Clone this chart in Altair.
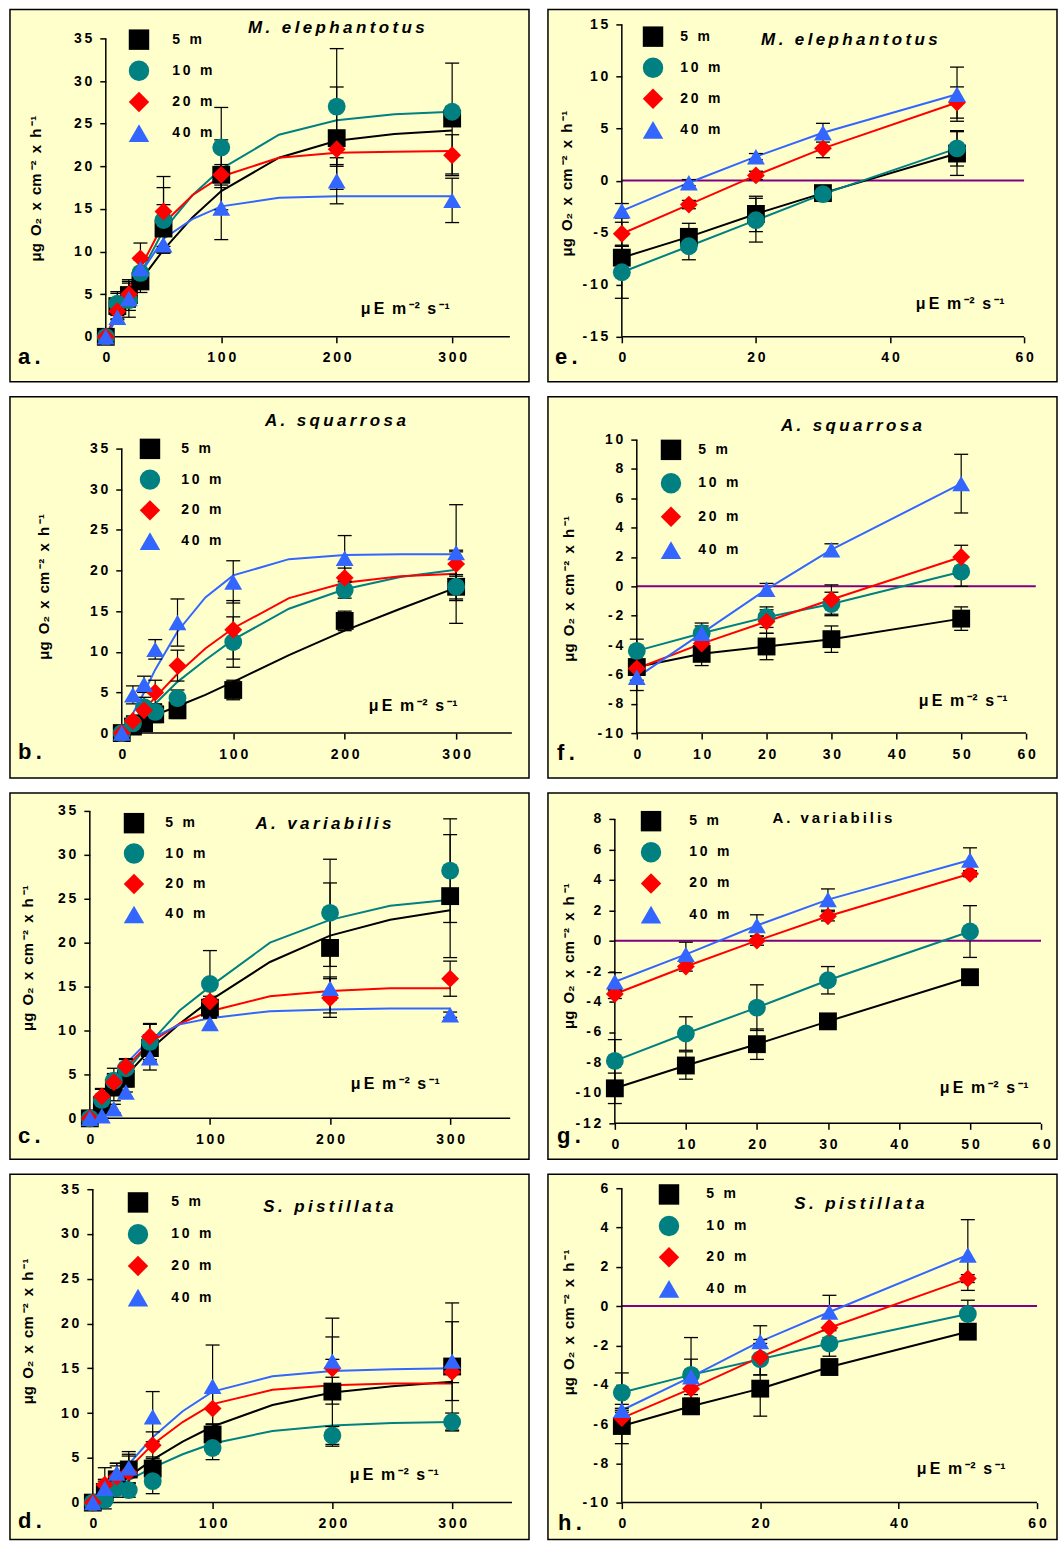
import altair as alt
import pandas as pd

FONT = "Liberation Sans"
THIN = "\u2009"

DEPTHS = ["5 m", "10 m", "20 m", "40 m"]
COLORS = ["#000000", "#008080", "#FF0000", "#3366FF"]
SHAPES = ["square", "circle", "diamond", "triangle-up"]
ZERO_COLOR = "#800080"
BOX_FILL = "#FFFFCC"

X_PI = [0, 10, 20, 30, 50, 100, 200, 300]
X_FIT = [0, 10, 20, 30, 50, 75, 100, 150, 200, 250, 300]
X_DARK = [0, 10, 20, 30, 50]

Y_TITLE = ("μg" + THIN + " O₂" + THIN + " x" + THIN + " cm" + THIN + "⁻²" + THIN + " x"
           + THIN + " h" + THIN + "⁻¹")
UNIT = "μ" + THIN + "E" + THIN + " m" + THIN + "⁻²" + THIN + " s" + THIN + "⁻¹"

TICKS_PI_X = [0, 100, 200, 300]
TICKS_PI_Y = [0, 5, 10, 15, 20, 25, 30, 35]
TICKS_E_X = [0, 20, 40, 60]
TICKS_E_Y = [-15, -10, -5, 0, 5, 10, 15]
TICKS_F_X = [0, 10, 20, 30, 40, 50, 60]
TICKS_F_Y = [-10, -8, -6, -4, -2, 0, 2, 4, 6, 8, 10]
TICKS_G_X = [0, 10, 20, 30, 40, 50, 60]
TICKS_G_Y = [-12, -10, -8, -6, -4, -2, 0, 2, 4, 6, 8]
TICKS_H_X = [0, 20, 40, 60]
TICKS_H_Y = [-10, -8, -6, -4, -2, 0, 2, 4, 6]

# ---- a. M. elephantotus (P-I) ----
a_mean = [[0, 3.6, 4.9, 6.5, 12.7, 19.0, 23.3, 25.6],
          [0, 3.9, 4.3, 7.5, 13.7, 22.2, 27.0, 26.4],
          [0, 3.0, 5.0, 9.2, 14.7, 19.0, 22.0, 21.3],
          [0, 2.3, 4.5, 8.0, 10.8, 15.1, 18.3, 16.0]]
a_sd = [[0, 1.5, 1.8, 1.3, 2.8, 4.1, 6.0, 6.5],
        [0, 1.4, 2.0, 1.5, 3.8, 4.7, 6.8, 0.6],
        [0, 1.0, 1.5, 1.8, 4.1, 1.2, 2.0, 2.4],
        [0, 0.8, 1.0, 1.2, 1.0, 3.7, 2.7, 2.6]]
a_fit = [[0, 2.4, 4.6, 6.6, 10.2, 14.0, 17.1, 21.0, 23.0, 23.8, 24.2],
         [0, 3.0, 5.2, 7.4, 12.5, 16.6, 19.7, 23.7, 25.4, 26.1, 26.4],
         [0, 3.0, 5.6, 8.1, 13.3, 16.6, 18.8, 21.0, 21.6, 21.7, 21.8],
         [0, 2.3, 4.6, 7.4, 11.5, 13.8, 15.3, 16.3, 16.5, 16.5, 16.5]]

# ---- b. A. squarrosa (P-I) ----
b_mean = [[0, 0.8, 1.2, 2.3, 2.8, 5.3, 13.8, 18.0],
          [0, 1.2, 3.2, 2.6, 4.3, 11.2, 17.6, 18.0],
          [0, 1.5, 2.8, 5.0, 8.3, 12.7, 19.1, 20.8],
          [0, 4.7, 6.0, 10.3, 13.6, 18.6, 21.5, 22.2]]
b_sd = [[0, 0.6, 0.8, 1.0, 1.0, 1.2, 1.2, 4.5],
        [0, 0.8, 1.2, 1.0, 1.0, 3.1, 1.0, 1.5],
        [0, 0.6, 1.0, 1.5, 1.9, 3.6, 1.2, 1.5],
        [0, 1.1, 1.0, 1.2, 2.9, 2.6, 2.8, 5.9]]
b_fit = [[0, 0.8, 1.5, 2.2, 3.3, 4.7, 6.3, 9.6, 12.6, 15.3, 17.9],
         [0, 1.2, 2.4, 3.6, 6.3, 9.0, 11.5, 15.3, 17.7, 19.2, 20.1],
         [0, 1.4, 2.9, 4.4, 7.3, 10.4, 12.9, 16.6, 18.5, 19.3, 19.6],
         [0, 2.4, 5.0, 7.8, 12.5, 16.7, 19.4, 21.4, 21.9, 22.0, 22.0]]

# ---- c. A. variabilis (P-I) ----
c_mean = [[0, 1.5, 3.5, 4.5, 8.0, 12.6, 19.4, 25.3],
          [0, 2.1, 4.3, 5.7, 8.7, 15.3, 23.4, 28.2],
          [0, 2.5, 4.1, 5.9, 9.3, 13.3, 13.7, 15.9],
          [0, 0.3, 1.1, 3.0, 6.9, 10.8, 14.8, 11.8]]
c_sd = [[0, 1.0, 1.5, 1.5, 1.5, 1.0, 7.4, 7.0],
        [0, 1.2, 1.4, 1.0, 2.0, 3.8, 6.1, 5.9],
        [0, 0.9, 1.0, 0.9, 1.5, 0.6, 2.2, 2.0],
        [0, 0.3, 0.5, 0.6, 1.4, 0.6, 1.3, 0.3]]
c_fit = [[0, 1.6, 3.2, 4.8, 7.8, 10.8, 13.4, 17.8, 20.8, 22.6, 23.7],
         [0, 1.8, 3.5, 5.3, 8.6, 12.3, 15.0, 20.0, 22.6, 24.2, 24.9],
         [0, 2.0, 4.0, 5.8, 8.6, 10.8, 12.2, 13.9, 14.5, 14.8, 14.8],
         [0, 2.2, 4.3, 6.2, 9.0, 10.7, 11.4, 12.2, 12.4, 12.5, 12.5]]

# ---- d. S. pistillata (P-I) ----
d_mean = [[0, 1.2, 2.6, 3.7, 3.8, 7.6, 12.4, 15.2],
          [0, 0.3, 1.6, 1.4, 2.4, 6.1, 7.5, 9.0],
          [0, 2.0, 2.9, 3.4, 6.4, 10.5, 15.0, 14.6],
          [0, 1.6, 3.3, 3.9, 9.6, 13.0, 15.8, 15.8]]
d_sd = [[0, 1.2, 1.5, 1.5, 1.3, 1.2, 6.1, 7.1],
        [0, 1.0, 1.0, 0.8, 1.4, 1.3, 1.0, 1.0],
        [0, 1.9, 1.5, 2.0, 1.5, 1.8, 1.0, 1.2],
        [0, 1.0, 1.1, 1.8, 2.8, 4.6, 4.8, 4.4]]
d_fit = [[0, 0.8, 1.8, 2.9, 4.8, 6.8, 8.5, 10.9, 12.3, 13.0, 13.5],
         [0, 0.7, 1.6, 2.5, 3.9, 5.4, 6.6, 8.0, 8.6, 8.9, 9.0],
         [0, 1.1, 2.4, 3.8, 6.5, 9.0, 11.0, 12.6, 13.1, 13.3, 13.3],
         [0, 1.2, 2.7, 4.3, 7.3, 10.2, 12.4, 14.1, 14.7, 14.9, 15.0]]

# ---- e-h: low light ----
e_mean = [[-7.4, -5.4, -3.2, -1.2, 2.6],
          [-8.8, -6.3, -3.8, -1.3, 3.1],
          [-5.1, -2.3, 0.5, 3.1, 7.5],
          [-2.9, -0.2, 2.3, 4.6, 8.3]]
e_sd = [[1.1, 1.3, 1.7, 0.4, 2.1],
        [2.5, 1.3, 2.1, 0.5, 1.7],
        [1.1, 0.4, 0.4, 0.9, 1.5],
        [0.7, 0.3, 0.3, 0.9, 2.6]]

f_mean = [[-5.5, -4.6, -4.1, -3.6, -2.2],
          [-4.4, -3.2, -2.1, -1.2, 1.0],
          [-5.6, -3.9, -2.4, -0.9, 2.0],
          [-6.2, -3.2, -0.2, 2.5, 7.0]]
f_sd = [[0.9, 0.8, 0.9, 0.9, 0.8],
        [0.8, 0.7, 0.7, 0.8, 1.0],
        [1.0, 0.6, 0.8, 1.0, 0.8],
        [0.9, 0.5, 0.4, 0.4, 2.0]]

g_mean = [[-9.7, -8.2, -6.8, -5.3, -2.4],
          [-7.9, -6.1, -4.4, -2.6, 0.6],
          [-3.5, -1.7, 0.0, 1.6, 4.4],
          [-2.7, -0.9, 1.0, 2.7, 5.3]]
g_sd = [[1.0, 0.9, 1.0, 0.4, 0.1],
        [1.4, 1.1, 1.5, 0.9, 1.7],
        [0.3, 0.3, 0.3, 0.3, 0.2],
        [0.6, 0.8, 0.7, 0.7, 0.8]]

h_mean = [[-6.1, -5.1, -4.2, -3.1, -1.3],
          [-4.4, -3.5, -2.7, -1.9, -0.4],
          [-5.7, -4.2, -2.6, -1.1, 1.4],
          [-5.3, -3.6, -1.8, -0.3, 2.6]]
h_sd = [[0.9, 0.4, 1.4, 0.3, 0.1],
        [1.0, 1.9, 0.8, 0.65, 0.7],
        [0.4, 0.5, 0.9, 0.5, 0.2],
        [0.3, 0.9, 0.8, 0.85, 1.8]]

# ---- layout (pixels) ----
LAYOUT = {
    "a": dict(box=(9, 7, 520, 373), xref=((0, 105), (300, 452)), yref=((0, 335), (35, 36)),
              xaxis_at=0, xline=(0, 350), yline=(0, 35), zero=None,
              legend=(129, 30, 162, 30.7), title=(327, 19), unit=(396, 300), letter=(8, 355), ytitle=(-70, 179)),
    "b": dict(box=(9, 395, 520, 382), xref=((0, 121), (300, 456)), yref=((0, 732), (35, 447)),
              xaxis_at=0, xline=(0, 350), yline=(0, 35), zero=None,
              legend=(140, 52, 171, 30.3), title=(326, 24), unit=(404, 310), letter=(8, 363), ytitle=(-78, 190)),
    "c": dict(box=(9, 792, 520, 367), xref=((0, 89), (300, 450)), yref=((0, 1118), (35, 810)),
              xaxis_at=0, xline=(0, 350), yline=(0, 35), zero=None,
              legend=(124, 30, 155, 30), title=(314, 31), unit=(386, 292), letter=(8, 351), ytitle=(-62, 165)),
    "d": dict(box=(9, 1174, 520, 366), xref=((0, 92), (300, 452)), yref=((0, 1503), (35, 1189)),
              xaxis_at=0, xline=(0, 350), yline=(0, 35), zero=None,
              legend=(128, 28, 161, 31.3), title=(319, 33), unit=(385, 301), letter=(8, 354), ytitle=(-65, 157)),
    "e": dict(box=(548, 7, 510, 373), xref=((0, 622), (60, 1025)), yref=((-15, 335), (15, 22)),
              xaxis_at=-15, xline=(0, 60), yline=(-15, 15), zero=60,
              legend=(105, 27, 132, 30.6), title=(302, 31), unit=(413, 295), letter=(7, 355), ytitle=(-55, 174)),
    "f": dict(box=(548, 395, 510, 382), xref=((0, 637), (60, 1027)), yref=((-10, 732), (10, 438)),
              xaxis_at=-10, xline=(0, 60), yline=(-10, 10), zero=61.5,
              legend=(123, 53, 150, 33), title=(304, 29), unit=(416, 305), letter=(9, 364), ytitle=(-68, 192)),
    "g": dict(box=(548, 792, 510, 367), xref=((0, 615), (60, 1042)), yref=((-12, 1123), (8, 818)),
              xaxis_at=-12, xline=(0, 60), yline=(-12, 8), zero=60,
              legend=(103, 28, 141, 30.7), title=(285, 25), unit=(437, 296), letter=(9, 351), ytitle=(-46, 163)),
    "h": dict(box=(548, 1174, 510, 366), xref=((0, 622), (60, 1038)), yref=((-10, 1503), (6, 1188)),
              xaxis_at=-10, xline=(0, 60), yline=(-10, 6), zero=60,
              legend=(121, 20, 158, 31), title=(312, 30), unit=(414, 295), letter=(10, 356), ytitle=(-53, 148)),
}

SPACED_EXPR = "join(split(toString(datum.value), ''), '" + THIN + "')"
LEGEND_EXPR = "join(split(datum.label, ''), '" + THIN + "')"
SYM = 420.0
SYM_D = SYM ** 0.5


def spaced(s):
    return THIN.join(s)


def long_df(xs, rows, sds=None):
    recs = []
    for k, depth in enumerate(DEPTHS):
        for i, x in enumerate(xs):
            r = {"x": x, "y": rows[k][i], "depth": depth}
            if sds is not None:
                s = sds[k][i]
                r["sd"] = s
                r["lo"] = rows[k][i] - s
                r["hi"] = rows[k][i] + s
            recs.append(r)
    return pd.DataFrame(recs)


def make_panel(key, xs, means, sds, fits, species, italic, letter, xticks, yticks):
    p = LAYOUT[key]
    left, top, W, H = p["box"]
    (xv0, xp0), (xv1, xp1) = p["xref"]
    (yv0, yp0), (yv1, yp1) = p["yref"]
    xk = (xp1 - xp0) / (xv1 - xv0)
    yk = (yp0 - yp1) / (yv1 - yv0)
    xr0 = xp0 - left
    yr0 = yp0 - top
    xdom = [xv0 - xr0 / xk, xv0 + (W - xr0) / xk]
    ydom = [yv0 - (H - yr0) / yk, yv0 + yr0 / yk]
    yaxis_px = xr0 + (0 - xv0) * xk
    xaxis_px = yr0 - (p["xaxis_at"] - yv0) * yk

    xaxis = alt.Axis(values=xticks, offset=-(H - xaxis_px), domain=False, grid=False,
                     tickSize=6, tickWidth=1.5, tickColor="black",
                     labelFont=FONT, labelFontSize=14, labelFontWeight="bold", labelColor="black",
                     labelPadding=8, labelExpr=SPACED_EXPR, labelFlush=False, labelOverlap=False,
                     title=None)
    yaxis = alt.Axis(values=yticks, offset=-yaxis_px, domain=False, grid=False,
                     tickSize=6, tickWidth=1.5, tickColor="black",
                     labelFont=FONT, labelFontSize=14, labelFontWeight="bold", labelColor="black",
                     labelPadding=8, labelExpr=SPACED_EXPR, labelFlush=False, labelOverlap=False,
                     title=Y_TITLE, titleFont=FONT, titleFontSize=15, titleFontWeight="bold",
                     titleColor="black", titleX=p["ytitle"][0], titleY=p["ytitle"][1],
                     titleBaseline="middle", titleAlign="center")
    xsc = alt.Scale(domain=xdom, nice=False, zero=False)
    ysc = alt.Scale(domain=ydom, nice=False, zero=False)

    def X(f):
        return alt.X(f, type="quantitative", scale=xsc, axis=xaxis)

    def Y(f):
        return alt.Y(f, type="quantitative", scale=ysc, axis=yaxis)

    cscale = alt.Scale(domain=DEPTHS, range=COLORS)
    sscale = alt.Scale(domain=DEPTHS, range=SHAPES)
    lx, ly, lab_x, pitch = p["legend"]
    legend = alt.Legend(orient="none", legendX=lx - SYM_D / 2, legendY=ly - SYM_D / 2,
                        title=None, padding=0, symbolSize=SYM, symbolStrokeWidth=0,
                        rowPadding=pitch - SYM_D, labelOffset=lab_x - (lx + SYM_D / 2),
                        labelFont=FONT, labelFontSize=14, labelFontWeight="bold",
                        labelColor="black", labelExpr=LEGEND_EXPR, labelLimit=300,
                        symbolOpacity=1)

    pts = long_df(xs, means, sds)
    err = pts[pts["sd"] > 0]
    line_df = long_df(X_FIT, fits) if fits is not None else pts

    layers = []
    if p["zero"] is not None:
        zdf = pd.DataFrame({"x": [0], "x2": [p["zero"]], "y": [0]})
        layers.append(alt.Chart(zdf).mark_rule(color=ZERO_COLOR, strokeWidth=2)
                      .encode(x=X("x"), x2="x2", y=Y("y")))
    xl = pd.DataFrame({"x": [p["xline"][0]], "x2": [p["xline"][1]], "y": [p["xaxis_at"]]})
    layers.append(alt.Chart(xl).mark_rule(color="black", strokeWidth=1.5)
                  .encode(x=X("x"), x2="x2", y=Y("y")))
    yl = pd.DataFrame({"x": [0], "y": [p["yline"][0]], "y2": [p["yline"][1]]})
    layers.append(alt.Chart(yl).mark_rule(color="black", strokeWidth=1.5)
                  .encode(x=X("x"), y=Y("y"), y2="y2"))
    for depth, col in zip(DEPTHS, COLORS):
        layers.append(alt.Chart(line_df[line_df["depth"] == depth])
                      .mark_line(strokeWidth=2, color=col)
                      .encode(x=X("x"), y=Y("y")))
    layers.append(alt.Chart(err).mark_rule(color="black", strokeWidth=1.2)
                  .encode(x=X("x"), y=Y("lo"), y2="hi"))
    for end in ("lo", "hi"):
        layers.append(alt.Chart(err).mark_tick(color="black", orient="horizontal", size=14,
                                               thickness=1.3, opacity=1)
                      .encode(x=X("x"), y=Y(end)))
    layers.append(alt.Chart(pts).mark_point(filled=True, size=320, opacity=1)
                  .encode(x=X("x"), y=Y("y"),
                          color=alt.Color("depth:N", scale=cscale, legend=legend),
                          shape=alt.Shape("depth:N", scale=sscale, legend=legend)))

    tx, ty = p["title"]
    tdf = pd.DataFrame({"t": [spaced(species)]})
    layers.append(alt.Chart(tdf).mark_text(font=FONT, fontSize=17 if italic else 15,
                                           fontWeight="bold",
                                           fontStyle="italic" if italic else "normal",
                                           align="center", baseline="middle", color="black")
                  .encode(x=alt.value(tx), y=alt.value(ty), text="t:N"))
    ux, uy = p["unit"]
    udf = pd.DataFrame({"t": [UNIT]})
    layers.append(alt.Chart(udf).mark_text(font=FONT, fontSize=16, fontWeight="bold",
                                           align="center", baseline="middle", color="black")
                  .encode(x=alt.value(ux), y=alt.value(uy), text="t:N"))
    lx2, ly2 = p["letter"]
    ldf = pd.DataFrame({"t": [spaced(letter)]})
    layers.append(alt.Chart(ldf).mark_text(font=FONT, fontSize=22, fontWeight="bold",
                                           align="left", baseline="alphabetic", color="black")
                  .encode(x=alt.value(lx2), y=alt.value(ly2), text="t:N"))

    return alt.layer(*layers).properties(width=W, height=H)


pa = make_panel("a", X_PI, a_mean, a_sd, a_fit, "M. elephantotus", True, "a.", TICKS_PI_X, TICKS_PI_Y)
pb = make_panel("b", X_PI, b_mean, b_sd, b_fit, "A. squarrosa", True, "b.", TICKS_PI_X, TICKS_PI_Y)
pc = make_panel("c", X_PI, c_mean, c_sd, c_fit, "A. variabilis", True, "c.", TICKS_PI_X, TICKS_PI_Y)
pd_ = make_panel("d", X_PI, d_mean, d_sd, d_fit, "S. pistillata", True, "d.", TICKS_PI_X, TICKS_PI_Y)
pe = make_panel("e", X_DARK, e_mean, e_sd, None, "M. elephantotus", True, "e.", TICKS_E_X, TICKS_E_Y)
pf = make_panel("f", X_DARK, f_mean, f_sd, None, "A. squarrosa", True, "f.", TICKS_F_X, TICKS_F_Y)
pg = make_panel("g", X_DARK, g_mean, g_sd, None, "A. variabilis", False, "g.", TICKS_G_X, TICKS_G_Y)
ph = make_panel("h", X_DARK, h_mean, h_sd, None, "S. pistillata", True, "h.", TICKS_H_X, TICKS_H_Y)

chart = alt.concat(pa, pe, pb, pf, pc, pg, pd_, ph, columns=2,
                   spacing={"row": 15, "column": 19}, align="each", bounds="flush")
chart = (chart.resolve_scale(color="independent", shape="independent")
         .resolve_legend(color="independent", shape="independent")
         .configure(font=FONT)
         .configure_view(fill=BOX_FILL, stroke="black", strokeWidth=1.5)
         .properties(padding={"left": 9, "top": 7, "right": 0, "bottom": 0}, background="white"))

chart.save("out.html", embed_options={"renderer": "svg", "actions": False})
